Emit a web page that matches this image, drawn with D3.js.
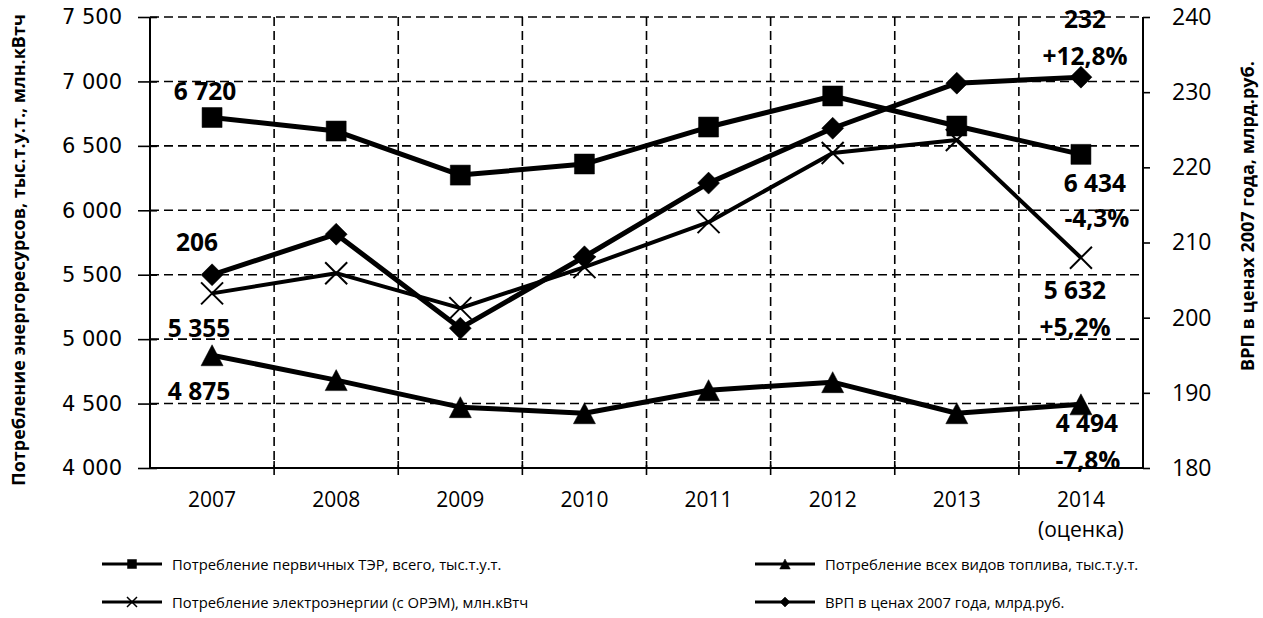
<!DOCTYPE html>
<html><head><meta charset="utf-8">
<script src="https://cdn.jsdelivr.net/npm/d3@7"></script>
<style>
html,body{margin:0;padding:0;background:#fff;}
svg{display:block;}
</style></head>
<body>
<svg id="chart" width="1263" height="618"></svg>
<script>
// ---------- data ----------
const categories = ["2007","2008","2009","2010","2011","2012","2013","2014"];
const categorySubLabels = ["","","","","","","","(оценка)"];
const primaryTER = [6720, 6615, 6273, 6359, 6646, 6887, 6654, 6434];   // тыс.т.у.т.
const fuelAll    = [4875, 4682, 4472, 4425, 4604, 4666, 4425, 4494];   // тыс.т.у.т.
const electricity= [5355, 5512, 5241, 5559, 5908, 6444, 6545, 5632];   // млн.кВтч
const grp        = [205.7, 211.1, 198.6, 208.1, 217.9, 225.2, 231.2, 232]; // млрд.руб.
const leftTicks = [4000, 4500, 5000, 5500, 6000, 6500, 7000, 7500];
const leftTickLabels = ["4 000","4 500","5 000","5 500","6 000","6 500","7 000","7 500"];
const rightTicks = [180, 190, 200, 210, 220, 230, 240];
const rightTickLabels = ["180","190","200","210","220","230","240"];
const seriesNames = [
  "Потребление первичных ТЭР, всего, тыс.т.у.т.",
  "Потребление всех видов топлива, тыс.т.у.т.",
  "Потребление электроэнергии (с ОРЭМ), млн.кВтч",
  "ВРП в ценах 2007 года, млрд.руб."
];
const leftTitle = "Потребление энергоресурсов, тыс.т.у.т., млн.кВтч";
const rightTitle = "ВРП в ценах 2007 года, млрд.руб.";
// annotation texts: [series, category index, text]
const annotationTexts = [
  ["ter", 0, "6 720"], ["grp", 0, "206"], ["elec", 0, "5 355"], ["fuel", 0, "4 875"],
  ["grp", 7, "232"], ["grp", 7, "+12,8%"],
  ["ter", 7, "6 434"], ["ter", 7, "-4,3%"],
  ["elec", 7, "5 632"], ["elec", 7, "+5,2%"],
  ["fuel", 7, "4 494"], ["fuel", 7, "-7,8%"]
];

// ---------- layout / style ----------
const L = 150, R = 1143, T = 17, B = 468;
const annotationOffsets = [
  [-7,-27],[-15,-33],[-13,34],[-13,35],
  [4,-59],[4,-22],
  [14,28],[16,63],
  [-6,32],[-6,69],
  [6,18],[7,55]
];
const svg = d3.select("#chart");
const x = d3.scaleBand().domain(categories).range([L, R]);
const yL = d3.scaleLinear().domain([4000, 7500]).range([B, T]);
const yR = d3.scaleLinear().domain([180, 240]).range([B, T]);
const cx = c => x(c) + x.bandwidth() / 2;

// grid
const grid = svg.append("g").attr("stroke", "#000").attr("stroke-width", 1.6)
  .attr("stroke-dasharray", "9,5").attr("fill", "none");
grid.selectAll("line.h").data(leftTicks.filter(d => d > 4000)).join("line")
  .attr("x1", L).attr("x2", R).attr("y1", d => yL(d)).attr("y2", d => yL(d));
grid.selectAll("line.v").data(categories.slice(1)).join("line")
  .attr("x1", d => x(d)).attr("x2", d => x(d)).attr("y1", T).attr("y2", B);

// axes
const fontTick = "'DejaVu Sans', sans-serif";
const gL = svg.append("g").attr("transform", `translate(${L},0)`)
  .call(d3.axisLeft(yL).tickValues(leftTicks).tickFormat((d, i) => leftTickLabels[i]).tickSize(12).tickPadding(16));
gL.selectAll(".tick line").attr("x1", 7);
gL.selectAll("text").attr("font-family", fontTick).attr("font-size", 21).attr("fill", "#000");
const gR = svg.append("g").attr("transform", `translate(${R},0)`)
  .call(d3.axisRight(yR).tickValues(rightTicks).tickFormat((d, i) => rightTickLabels[i]).tickSize(7).tickPadding(22));
gR.selectAll("text").attr("font-family", "'Open Sans', sans-serif").attr("font-size", 23).attr("fill", "#000");
const gB = svg.append("g").attr("transform", `translate(0,${B})`)
  .call(d3.axisBottom(x).tickValues([]).tickSizeOuter(0));
// category boundary ticks on bottom axis
gB.selectAll("line.bt").data(categories.slice(1)).join("line")
  .attr("x1", d => x(d)).attr("x2", d => x(d)).attr("y1", -7).attr("y2", 7).attr("stroke", "#000").attr("stroke-width", 1.6);
[gL, gR, gB].forEach(g => {
  g.selectAll(".domain").attr("stroke", "#000").attr("stroke-width", 2);
  g.selectAll(".tick line").attr("stroke", "#000").attr("stroke-width", 1.6);
});
gL.select(".domain").attr("d", `M0,${T}V${B}`);
gR.select(".domain").attr("d", `M0,${T}V${B}`);
gB.select(".domain").attr("d", `M${L},0H${R}`);

// category labels
const catG = svg.append("g").attr("font-family", "'Open Sans', sans-serif").attr("font-size", 21).attr("text-anchor", "middle");
catG.selectAll("text.c").data(categories).join("text")
  .attr("x", d => cx(d)).attr("y", 499).attr("dominant-baseline", "central").text(d => d);
catG.selectAll("text.s").data(categories.map((c, i) => [c, categorySubLabels[i]]).filter(d => d[1])).join("text")
  .attr("x", d => cx(d[0])).attr("y", 529).attr("dominant-baseline", "central").text(d => d[1]);

// axis titles
svg.append("text").attr("transform", `translate(18,250) rotate(-90)`)
  .attr("text-anchor", "middle").attr("dominant-baseline", "central")
  .attr("font-family", "'Open Sans', sans-serif").attr("font-weight", 700).attr("font-size", 18).text(leftTitle);
svg.append("text").attr("transform", `translate(1247,216) rotate(-90)`)
  .attr("text-anchor", "middle").attr("dominant-baseline", "central")
  .attr("font-family", "'Open Sans', sans-serif").attr("font-weight", 700).attr("font-size", 18).text(rightTitle);

// markers
const markers = {
  square: s => `M${-s},${-s}H${s}V${s}H${-s}Z`,
  triangle: s => `M0,${-s}L${s * 1.05},${s}H${-s * 1.05}Z`,
  diamond: s => `M0,${-s}L${s},0L0,${s}L${-s},0Z`,
  cross: s => `M${-s},${-s}L${s},${s}M${s},${-s}L${-s},${s}`
};
const series = [
  { key: "ter", values: primaryTER, y: yL, marker: "square", size: 10, width: 5 },
  { key: "fuel", values: fuelAll, y: yL, marker: "triangle", size: 10.5, width: 5 },
  { key: "elec", values: electricity, y: yL, marker: "cross", size: 11, width: 4 },
  { key: "grp", values: grp, y: yR, marker: "diamond", size: 11, width: 5 }
];
series.forEach(s => {
  const g = svg.append("g");
  const line = d3.line().x((d, i) => cx(categories[i])).y(d => s.y(d));
  g.append("path").attr("d", line(s.values)).attr("fill", "none").attr("stroke", "#000")
    .attr("stroke-width", s.width).attr("stroke-linejoin", "round");
  g.selectAll("path.m").data(s.values).join("path")
    .attr("transform", (d, i) => `translate(${cx(categories[i])},${s.y(d)})`)
    .attr("d", markers[s.marker](s.size))
    .attr("fill", s.marker === "cross" ? "none" : "#000")
    .attr("stroke", "#000").attr("stroke-width", s.marker === "cross" ? 2 : 0.5);
});

// annotations
const sMap = Object.fromEntries(series.map(s => [s.key, s]));
svg.append("g").attr("font-family", "'Open Sans', sans-serif").attr("font-weight", 700)
  .attr("font-size", 24.5).attr("text-anchor", "middle")
  .selectAll("text").data(annotationTexts).join("text")
  .attr("x", (d, i) => cx(categories[d[1]]) + annotationOffsets[i][0])
  .attr("y", (d, i) => sMap[d[0]].y(sMap[d[0]].values[d[1]]) + annotationOffsets[i][1])
  .attr("dominant-baseline", "central")
  .text(d => d[2]);

// legend
const legendItems = [
  { name: seriesNames[0], marker: "square", size: 4.5, lx: 102, ly: 564 },
  { name: seriesNames[1], marker: "triangle", size: 5, lx: 755, ly: 564 },
  { name: seriesNames[2], marker: "cross", size: 5, lx: 102, ly: 602 },
  { name: seriesNames[3], marker: "diamond", size: 5, lx: 755, ly: 602 }
];
const lg = svg.append("g");
legendItems.forEach(it => {
  lg.append("line").attr("x1", it.lx).attr("x2", it.lx + 60).attr("y1", it.ly).attr("y2", it.ly)
    .attr("stroke", "#000").attr("stroke-width", 3);
  lg.append("path").attr("transform", `translate(${it.lx + 30},${it.ly})`).attr("d", markers[it.marker](it.size))
    .attr("fill", it.marker === "cross" ? "none" : "#000").attr("stroke", "#000").attr("stroke-width", it.marker === "cross" ? 1.5 : 0.5);
  lg.append("text").attr("x", it.lx + 70).attr("y", it.ly).attr("dominant-baseline", "central")
    .attr("font-family", "'Open Sans', sans-serif").attr("font-size", 14.8).text(it.name);
});
</script>
</body></html>
